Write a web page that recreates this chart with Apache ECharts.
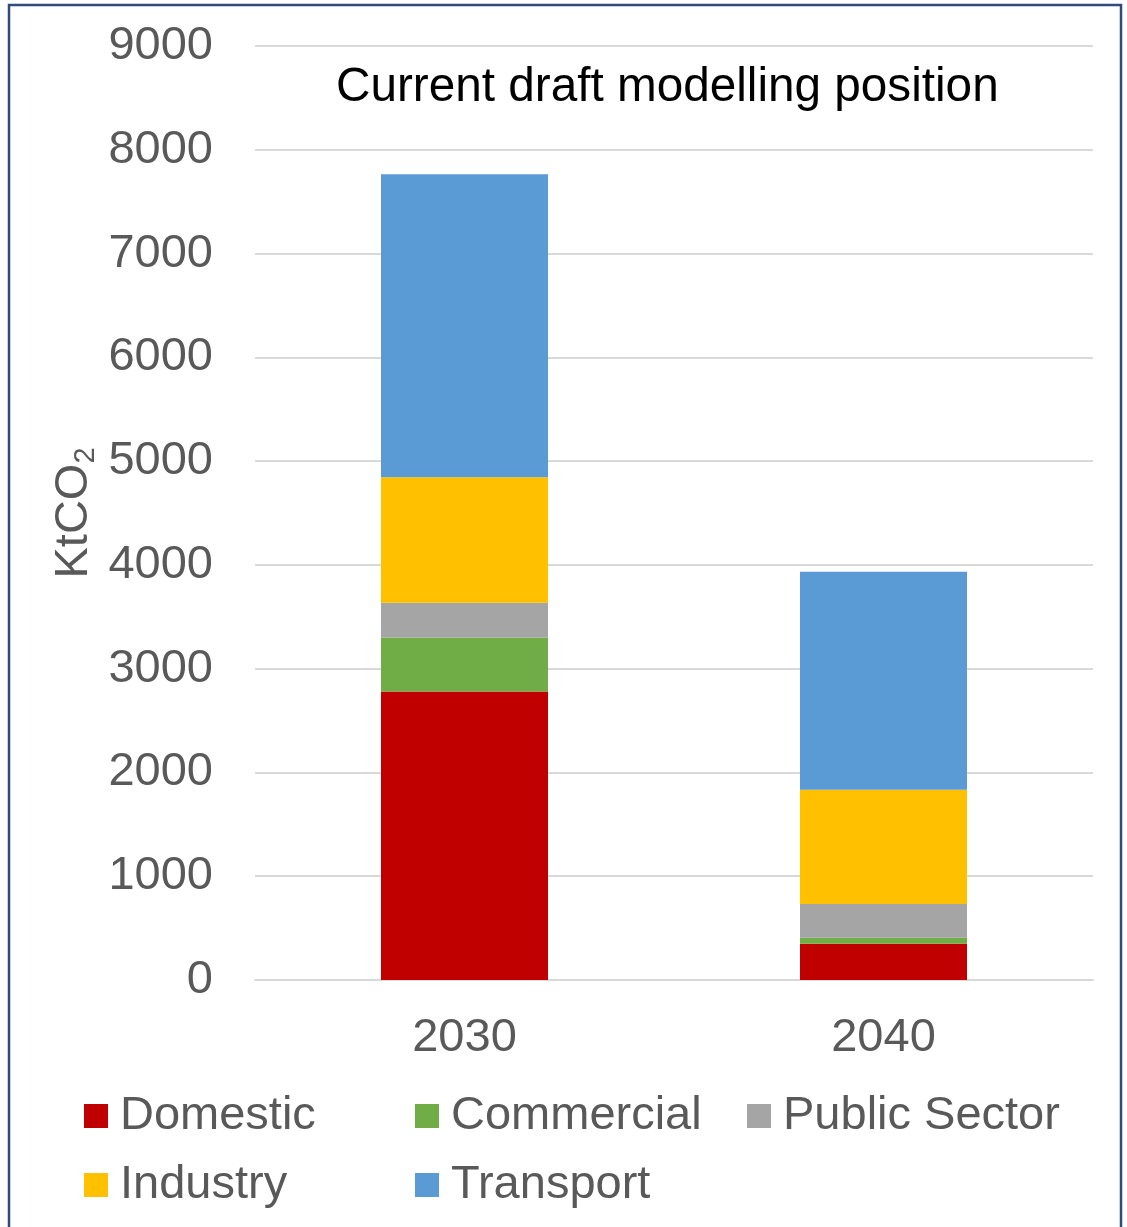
<!DOCTYPE html>
<html>
<head>
<meta charset="utf-8">
<title>Current draft modelling position</title>
<script src="https://cdn.jsdelivr.net/npm/echarts@6/dist/echarts.min.js"></script>
<style>
  html, body { margin: 0; padding: 0; background: #ffffff; }
  #chart { width: 1127px; height: 1227px; }
</style>
</head>
<body>
<div id="chart"></div>
<script>
// Emissions by sector, KtCO2
const years = ['2030', '2040'];
const domestic = [2780, 350];
const commercial = [520, 58];
const publicSector = [335, 325];
const industry = [1210, 1100];
const transport = [2920, 2100];
const yTicks = [0, 1000, 2000, 3000, 4000, 5000, 6000, 7000, 8000, 9000];

const FONT = "'Liberation Sans', Arial, sans-serif";
const GREY = '#595959';

const sectors = [
  { name: 'Domestic', data: domestic, color: '#C00000' },
  { name: 'Commercial', data: commercial, color: '#70AD47' },
  { name: 'Public Sector', data: publicSector, color: '#A5A5A5' },
  { name: 'Industry', data: industry, color: '#FFC000' },
  { name: 'Transport', data: transport, color: '#5B9BD5' }
];

const legendCommon = {
  orient: 'vertical',
  top: 1088,
  padding: 0,
  itemWidth: 24,
  itemHeight: 24,
  itemGap: 13,
  icon: 'rect',
  selectedMode: false,
  textStyle: { fontFamily: FONT, fontSize: 47, color: GREY, lineHeight: 56, padding: [0, 0, 0, 7] }
};

const chart = echarts.init(document.getElementById('chart'), null, { renderer: 'canvas' });

chart.setOption({
  animation: false,
  backgroundColor: '#ffffff',
  title: {
    text: 'Current draft modelling position',
    left: 331,
    top: 59,
    textStyle: { fontFamily: FONT, fontSize: 47.7, fontWeight: 'normal', color: '#000000' }
  },
  legend: [
    Object.assign({ left: 84, data: ['Domestic', 'Industry'] }, legendCommon),
    Object.assign({ left: 415, data: ['Commercial', 'Transport'] }, legendCommon),
    Object.assign({ left: 747, data: ['Public Sector'] }, legendCommon)
  ],
  grid: { left: 255, right: 34, top: 46, bottom: 247, containLabel: false },
  xAxis: {
    type: 'category',
    data: years,
    axisTick: { show: false },
    axisLine: { lineStyle: { color: '#d9d9d9', width: 2 } },
    axisLabel: { fontFamily: FONT, fontSize: 47, color: GREY, margin: 35 }
  },
  yAxis: {
    type: 'value',
    min: yTicks[0],
    max: yTicks[yTicks.length - 1],
    interval: yTicks[1] - yTicks[0],
    axisLine: { show: false },
    axisTick: { show: false },
    splitLine: { lineStyle: { color: '#d9d9d9', width: 2 } },
    axisLabel: { fontFamily: FONT, fontSize: 47, color: GREY, margin: 42, formatter: v => String(v) },
    name: '{m|KtCO}{s|2}',
    nameLocation: 'middle',
    nameRotate: 90,
    nameGap: 153,
    nameMoveOverlap: false,
    nameTextStyle: {
      rich: {
        m: { fontFamily: FONT, fontSize: 47, color: GREY, lineHeight: 56, verticalAlign: 'middle' },
        s: { fontFamily: FONT, fontSize: 29, color: GREY, lineHeight: 56, verticalAlign: 'bottom', padding: [0, 0, 2, 0] }
      }
    }
  },
  series: sectors.map(s => ({
    name: s.name,
    type: 'bar',
    stack: 'total',
    barWidth: 167,
    data: s.data,
    itemStyle: { color: s.color },
    emphasis: { disabled: true }
  })),
  graphic: [
    {
      type: 'rect',
      silent: true,
      shape: { x: 9, y: 5, width: 1112, height: 1250 },
      style: { fill: null, stroke: '#2F4B7C', lineWidth: 2.5 }
    }
  ]
});
</script>
</body>
</html>
